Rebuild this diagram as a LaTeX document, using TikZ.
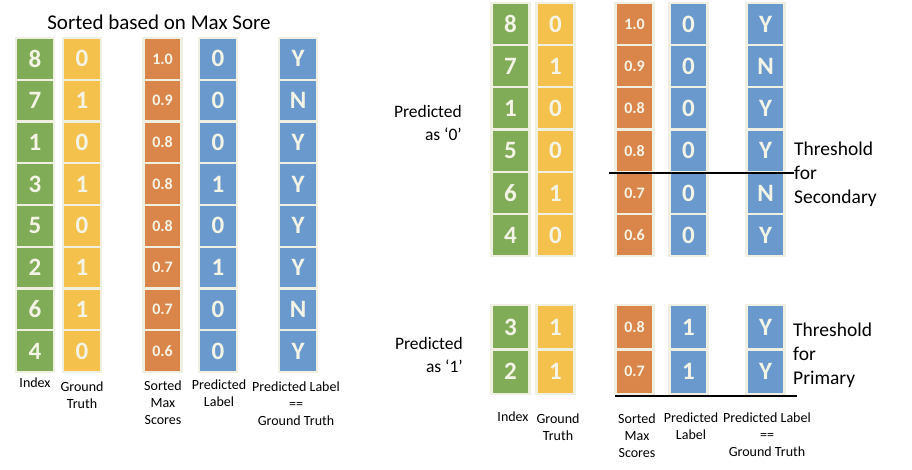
\documentclass[tikz,border=0pt]{standalone}
\usepackage{fontspec}
\setmainfont{Carlito}
\definecolor{cgreen}{HTML}{80AB57}
\definecolor{cyellow}{HTML}{F3C14C}
\definecolor{corange}{HTML}{DA854A}
\definecolor{cblue}{HTML}{6A9ACD}
\definecolor{cborder}{HTML}{EFEFE2}
\definecolor{ctext}{HTML}{F4F4E6}
\tikzset{
  cell/.style={draw=cborder, line width=2.2pt, minimum width=38pt, minimum height=#1,
    inner sep=0pt, text=ctext, font=\bfseries\fontsize{25}{25}\selectfont},
  gcell/.style={fill=cgreen},
  ycell/.style={fill=cyellow},
  ocell/.style={fill=corange, font=\bfseries\fontsize{16}{16}\selectfont},
  bcell/.style={fill=cblue},
  lab/.style={align=center, font=\fontsize{14}{17}\selectfont, inner sep=0pt},
  side/.style={font=\fontsize{19.5}{24}\selectfont, inner sep=0pt},
  thr/.style={line width=1.5pt}
}
\newcommand{\cellcol}[6]{%
  \foreach \v [count=\i] in {#6} {
    \node[cell=#4, #5] (#1-\i) at (#2, {#3 + #4*(\i-0.5)}) {\v};
  }}
\begin{document}
\begin{tikzpicture}[x=1pt,y=-1pt]
\useasboundingbox (0,0) rectangle (912,470);
% ---------- left panel ----------
\node[font=\fontsize{21}{21}\selectfont] (title) at (159,22) {Sorted based on Max Sore};
\cellcol{Lg}{35}{38}{41.75}{gcell}{8,7,1,3,5,2,6,4}
\cellcol{Ly}{82}{38}{41.75}{ycell}{0,1,0,1,0,1,1,0}
\cellcol{Lo}{162.5}{38}{41.75}{ocell}{1.0,0.9,0.8,0.8,0.8,0.7,0.7,0.6}
\cellcol{Lb}{218}{38}{41.75}{bcell}{0,0,0,1,0,1,0,0}
\cellcol{Le}{298}{38}{41.75}{bcell}{Y,N,Y,Y,Y,Y,N,Y}
\node[lab] (Llg) at (35,383) {Index};
\node[lab] (Lly) at (82,395) {Ground\\Truth};
\node[lab] (Llo) at (163,403) {Sorted\\Max\\Scores};
\node[lab] (Llb) at (219,393.5) {Predicted\\Label};
\node[lab] (Lle) at (296,404) {Predicted Label\\==\\Ground Truth};
% ---------- right panel, top ----------
\cellcol{Rg}{510.5}{3}{42.2}{gcell}{8,7,1,5,6,4}
\cellcol{Ry}{555.5}{3}{42.2}{ycell}{0,1,0,0,1,0}
\cellcol{Ro}{634.5}{3}{42.2}{ocell}{1.0,0.9,0.8,0.8,0.7,0.6}
\cellcol{Rb}{688.5}{3}{42.2}{bcell}{0,0,0,0,0,0}
\cellcol{Re}{765.5}{3}{42.2}{bcell}{Y,N,Y,Y,N,Y}
\node[side, align=right, anchor=east, font=\fontsize{17.5}{23}\selectfont] (p0) at (462,123) {Predicted\\as ‘0’};
\node[side, align=left, anchor=west] (thrsec) at (794,174) {Threshold\\for\\Secondary};
\coordinate (secL) at (609,173);
\draw[thr] (secL) -- (secL -| thrsec.west);
% ---------- right panel, bottom ----------
\cellcol{Sg}{510.5}{305}{44.5}{gcell}{3,2}
\cellcol{Sy}{555.5}{305}{44.5}{ycell}{1,1}
\cellcol{So}{634.5}{305}{44.5}{ocell}{0.8,0.7}
\cellcol{Sb}{688.5}{305}{44.5}{bcell}{1,1}
\cellcol{Se}{765.5}{305}{44.5}{bcell}{Y,Y}
\node[side, align=right, anchor=east, font=\fontsize{17.5}{23}\selectfont] (p1) at (463,355) {Predicted\\as ‘1’};
\node[side, align=left, anchor=west] (thrpri) at (793,355) {Threshold\\for\\Primary};
\coordinate (priL) at (615,396);
\coordinate (priR) at (797,396);
\draw[thr] (priL) -- (priR);
\node[lab] (Rlg) at (513,417) {Index};
\node[lab] (Rly) at (558,427.5) {Ground\\Truth};
\node[lab] (Rlo) at (637,436) {Sorted\\Max\\Scores};
\node[lab] (Rlb) at (691,426.5) {Predicted\\Label};
\node[lab] (Rle) at (767,435) {Predicted Label\\==\\Ground Truth};
\end{tikzpicture}
\end{document}
